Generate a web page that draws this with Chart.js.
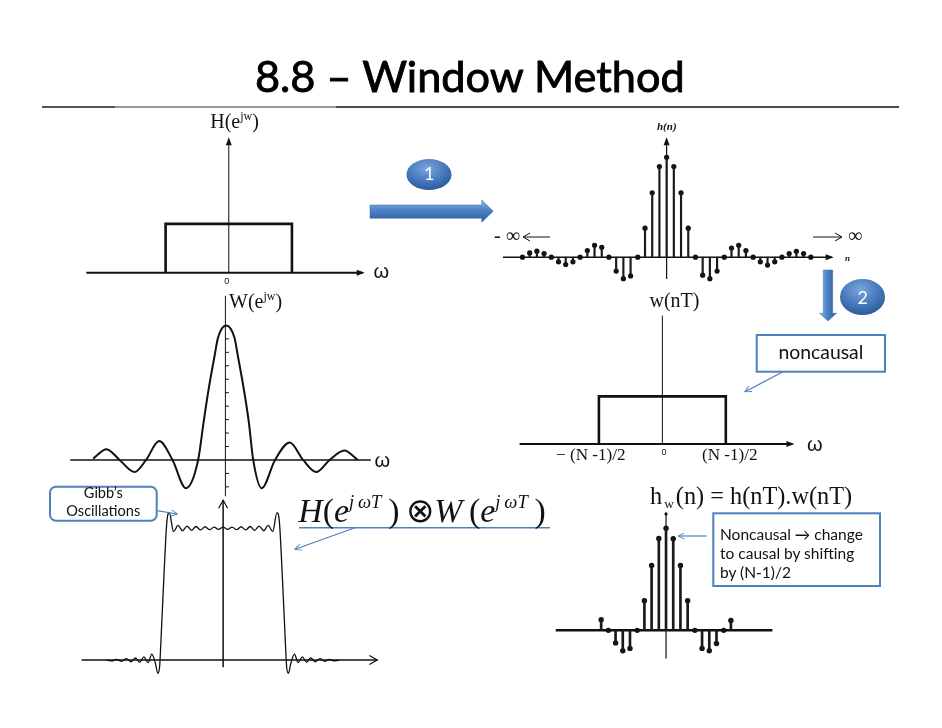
<!DOCTYPE html>
<html><head><meta charset="utf-8">
<script src="https://cdn.jsdelivr.net/npm/chart.js@4.4.1/dist/chart.umd.min.js"></script>
<style>
html,body{margin:0;padding:0;background:#fff;}
#wrap{position:relative;width:942px;height:728px;overflow:hidden;background:#fff;}
#c{position:absolute;left:0;top:0;}
#deco{position:absolute;left:0;top:0;}
.t{position:absolute;white-space:nowrap;line-height:1;color:#111;}
.sup{font-size:0.6em;vertical-align:0.65em;}
.sub{font-size:0.55em;vertical-align:-0.3em;}
</style></head><body>
<div id="wrap">
<canvas id="c" width="942" height="728"></canvas>
<svg id="deco" width="942" height="728" xmlns="http://www.w3.org/2000/svg">
<defs>
<linearGradient id="gh" x1="0" y1="0" x2="0" y2="1"><stop offset="0" stop-color="#8fb5e6"/><stop offset="0.45" stop-color="#4f83c6"/><stop offset="1" stop-color="#2b5c9c"/></linearGradient>
<linearGradient id="gv" x1="0" y1="0" x2="1" y2="0"><stop offset="0" stop-color="#8fb5e6"/><stop offset="0.45" stop-color="#4f83c6"/><stop offset="1" stop-color="#2b5c9c"/></linearGradient>
<radialGradient id="gc" cx="0.45" cy="0.3" r="0.8"><stop offset="0" stop-color="#7aa6dd"/><stop offset="0.6" stop-color="#3f72b5"/><stop offset="1" stop-color="#24518e"/></radialGradient>
<marker id="ah" viewBox="0 0 10 10" refX="9" refY="5" markerWidth="7" markerHeight="7" orient="auto" markerUnits="userSpaceOnUse"><path d="M0,0.5 L9.5,5 L0,9.5" fill="none" stroke="#4f81bd" stroke-width="1.3"/></marker>
</defs>
<!-- title rule -->
<line x1="42" y1="107" x2="115" y2="107" stroke="#555" stroke-width="2"/>
<line x1="115" y1="107" x2="336" y2="107" stroke="#9a9a9a" stroke-width="2"/>
<line x1="336" y1="107" x2="899" y2="107" stroke="#111" stroke-width="1.6"/>
<!-- step 1 -->
<ellipse cx="429" cy="174.5" rx="22.5" ry="15.5" fill="url(#gc)"/>
<path d="M370,205 H481.7 V200 L493.3,211.3 L481.7,222.3 V218.3 H370 Z" fill="url(#gh)" stroke="#3a6aa8" stroke-width="0.5"/>
<!-- step 2 -->
<ellipse cx="862.5" cy="297" rx="22.5" ry="18" fill="url(#gc)"/>
<path d="M823.3,270 H832.7 V313.3 H836.5 L828,321 L819.5,313.3 H823.3 Z" fill="url(#gv)" stroke="#3a6aa8" stroke-width="0.5"/>
<!-- infinity arrows -->
<line x1="523" y1="237" x2="550" y2="237" stroke="#111" stroke-width="1"/>
<path d="M530,233 L523,237 L530,241" fill="none" stroke="#111" stroke-width="1"/>
<line x1="813" y1="237" x2="842" y2="237" stroke="#111" stroke-width="1"/>
<path d="M835,233 L842,237 L835,241" fill="none" stroke="#111" stroke-width="1"/>
<!-- callouts -->
<rect x="756.7" y="335" width="128.3" height="36.7" fill="#fff" stroke="#4f81bd" stroke-width="2"/>
<line x1="783" y1="371.7" x2="745" y2="391.7" stroke="#4f81bd" stroke-width="1.2" marker-end="url(#ah)"/>
<rect x="713.3" y="513.3" width="166.7" height="72.7" fill="#fff" stroke="#4f81bd" stroke-width="2"/>
<line x1="706.7" y1="536" x2="678.3" y2="536" stroke="#4f81bd" stroke-width="1.2" marker-end="url(#ah)"/>
<rect x="50" y="486.7" width="106.7" height="34" rx="6" ry="6" fill="#fff" stroke="#4f81bd" stroke-width="2"/>
<line x1="156.7" y1="510.7" x2="177.3" y2="514" stroke="#4f81bd" stroke-width="1.2" marker-end="url(#ah)"/>
<line x1="299" y1="527.7" x2="550" y2="527.7" stroke="#4f81bd" stroke-width="1.5"/>
<line x1="355" y1="527.7" x2="295" y2="549.3" stroke="#4f81bd" stroke-width="1.2" marker-end="url(#ah)"/>
</svg>
</div>
<script>
// ---------------- data ----------------
// ideal low-pass H(e^jw): cutoff normalised to 1
const hOmega = [-1, -1, 1, 1];
const hMag = [0, 1, 1, 0];
// ideal impulse response h(n), n = -20..20 (peak normalised to 1)
const hnIndex = [-20,-19,-18,-17,-16,-15,-14,-13,-12,-11,-10,-9,-8,-7,-6,-5,-4,-3,-2,-1,0,1,2,3,4,5,6,7,8,9,10,11,12,13,14,15,16,17,18,19,20];
const hnValues = [0,0.043,0.06,0.036,0,-0.046,-0.073,-0.046,0,0.066,0.119,0.099,0,-0.139,-0.215,-0.188,0,0.29,0.644,0.908,1,0.908,0.644,0.29,0,-0.18,-0.215,-0.139,0,0.092,0.119,0.066,0,-0.046,-0.079,-0.046,0,0.036,0.059,0.036,0];
// window spectrum W(e^jw), omega in main-lobe half-width units
const wOmega = [-4.85,-4.36,-3.88,-3.33,-2.91,-2.43,-1.94,-1.45,-1.0,-0.80,-0.62,-0.40,-0.27,0.03,0.33,0.46,0.68,0.86,1.02,1.33,1.82,2.36,2.85,3.33,3.82,4.36,4.85];
const wMag = [0.01,0.08,0.0,-0.09,0.0,0.14,0.0,-0.21,0.0,0.28,0.52,0.77,0.91,1.0,0.91,0.77,0.52,0.28,0.0,-0.21,0.0,0.13,0.0,-0.09,0.0,0.07,0.0];
// rectangular window w(nT), n in (N-1)/2 units
const wnAxis = [-1, -1, 1, 1];
const wnMag = [0, 1, 1, 0];
// convolution H * W showing Gibbs oscillations
const convOmega = [-1.92,-1.84,-1.76,-1.68,-1.60,-1.52,-1.45,-1.38,-1.31,-1.24,-1.18,-1.12,-1.08,-1.05,-1.03,-0.98,-0.93,-0.89,-0.82,-0.745,-0.671,-0.596,-0.522,-0.447,-0.373,-0.298,-0.224,-0.149,-0.075,0,0.075,0.149,0.224,0.298,0.373,0.447,0.522,0.596,0.671,0.745,0.82,0.89,0.93,0.98,1.03,1.05,1.08,1.12,1.18,1.24,1.31,1.38,1.45,1.52,1.60,1.68,1.76,1.84,1.92];
const convMag = [0,-0.007,0.005,-0.01,0.01,-0.013,0.015,-0.017,0.024,-0.02,0.044,-0.024,-0.099,-0.05,0.124,0.617,1.037,1.104,0.962,1.008,0.968,1.003,0.971,1.0,0.974,0.998,0.976,0.996,0.978,0.995,0.978,0.996,0.976,0.998,0.974,1.0,0.971,1.003,0.968,1.008,0.962,1.104,1.037,0.617,0.124,-0.05,-0.099,-0.024,0.044,-0.02,0.024,-0.017,0.015,-0.013,0.01,-0.01,0.005,-0.007,0];
// windowed response h_w(n), n = -9..9
const hwIndex = [-9,-8,-7,-6,-5,-4,-3,-2,-1,0,1,2,3,4,5,6,7,8,9];
const hwValues = [0.103,0,-0.123,-0.2,-0.177,0,0.29,0.635,0.9,1,0.897,0.635,0.29,0,-0.177,-0.2,-0.129,0,0.097];
// tick marks on W(e^jw) axis
const wTicks = [-0.2,-0.1,0.1,0.2,0.3,0.4,0.5,0.6,0.7,0.8,0.9];

// ---------------- layout (pixel origin / scale of each panel) ----------------
const W = 942, H = 728;
const panels = {
  H:    {ox:226.7, oy:271.7, sx:63.7, sy:49.4},
  hn:   {ox:668.3, oy:256,   sx:7.27, sy:101},
  Wf:   {ox:223.3, oy:461,   sx:27.5, sy:136},
  wn:   {ox:664,   oy:445,   sx:64,   sy:48.3},
  conv: {ox:221,   oy:663.3, sx:61,   sy:135},
  hw:   {ox:667.7, oy:633.3, sx:7.27, sy:103.3}
};
const scales = {};
for (const k in panels) {
  const p = panels[k];
  scales['x'+k] = {type:'linear', display:false, bounds:'data', offset:false, min:-p.ox/p.sx, max:(W-p.ox)/p.sx};
  scales['y'+k] = {type:'linear', display:false, bounds:'data', min:-(H-p.oy)/p.sy, max:p.oy/p.sy};
}
const axesSpec = [
  {p:'H',   x:[-2.256,2.12], y:[0,2.733],     xw:2,   yw:1,   ax:'fill', ay:'fill'},
  {p:'hn',  x:[-22.7,22.9],  y:[-0.218,1.18], xw:1.5, yw:1.2, ax:'fill', ay:'fill'},
  {p:'Wf',  x:[-5.69,5.33],  y:[-0.27,1.22],  xw:1.5, yw:1,   ax:null,   ay:null, ticks:wTicks},
  {p:'wn',  x:[-2.25,2.05],  y:[0,2.69],      xw:2,   yw:1,   ax:'fill', ay:null},
  {p:'conv',x:[-2.34,2.55],  y:[-0.055,1.197],xw:1.5, yw:1.5, ax:'open', ay:'open'},
  {p:'hw',  x:[-15.3,14.76], y:[-0.276,1.139],xw:2.5, yw:1.2, ax:null,   ay:null, topDot:true}
];
const axisPlugin = {
  id:'panelAxes',
  beforeDatasetsDraw(chart){
    const ctx = chart.ctx;
    ctx.save();
    ctx.strokeStyle = '#111'; ctx.fillStyle = '#111';
    for (const a of axesSpec) {
      const xs = chart.scales['x'+a.p], ys = chart.scales['y'+a.p];
      const x0 = xs.getPixelForValue(a.x[0]), x1 = xs.getPixelForValue(a.x[1]);
      const yb = ys.getPixelForValue(0), xa = xs.getPixelForValue(0);
      const y0 = ys.getPixelForValue(a.y[0]), y1 = ys.getPixelForValue(a.y[1]);
      ctx.lineWidth = a.xw;
      ctx.beginPath(); ctx.moveTo(x0,yb); ctx.lineTo(x1,yb); ctx.stroke();
      ctx.lineWidth = a.yw;
      ctx.beginPath(); ctx.moveTo(xa,y0); ctx.lineTo(xa,y1); ctx.stroke();
      if (a.ax === 'fill') { ctx.beginPath(); ctx.moveTo(x1+2,yb); ctx.lineTo(x1-6,yb-3); ctx.lineTo(x1-6,yb+3); ctx.closePath(); ctx.fill(); }
      if (a.ay === 'fill') { ctx.beginPath(); ctx.moveTo(xa,y1-2); ctx.lineTo(xa-3,y1+6); ctx.lineTo(xa+3,y1+6); ctx.closePath(); ctx.fill(); }
      ctx.lineWidth = 1.2;
      if (a.ax === 'open') { ctx.beginPath(); ctx.moveTo(x1-8,yb-4.5); ctx.lineTo(x1,yb); ctx.lineTo(x1-8,yb+4.5); ctx.stroke(); }
      if (a.ay === 'open') { ctx.beginPath(); ctx.moveTo(xa-4.5,y1+8); ctx.lineTo(xa,y1); ctx.lineTo(xa+4.5,y1+8); ctx.stroke(); }
      if (a.ticks) { ctx.lineWidth = 1; for (const t of a.ticks) { const ty = ys.getPixelForValue(t); ctx.beginPath(); ctx.moveTo(xa,ty); ctx.lineTo(xa+3.5,ty); ctx.stroke(); } }
      if (a.topDot) { ctx.beginPath(); ctx.arc(xa,y1,1.6,0,Math.PI*2); ctx.fill(); }
    }
    ctx.restore();
  }
};
const pts = (xs, ys) => xs.map((x,i)=>({x, y:ys[i]}));
const lineDs = (k, xs, ys, w, smooth) => ({type:'line', xAxisID:'x'+k, yAxisID:'y'+k, data:pts(xs,ys), borderColor:'#111', borderWidth:w, pointRadius:0, fill:false, tension:0, cubicInterpolationMode: smooth?'monotone':'default'});
const stemDs = (k, xs, ys, w) => ({type:'bar', xAxisID:'x'+k, yAxisID:'y'+k, data:pts(xs,ys), backgroundColor:'#1a1a1a', barThickness:w, grouped:false, borderWidth:0});
const dotDs = (k, xs, ys, r) => ({type:'line', xAxisID:'x'+k, yAxisID:'y'+k, data:pts(xs,ys), showLine:false, pointRadius:r, pointBackgroundColor:'#111', pointBorderWidth:0, borderColor:'#111'});

new Chart(document.getElementById('c').getContext('2d'), {
  type:'line',
  data:{datasets:[
    lineDs('H', hOmega, hMag, 2.6, false),
    stemDs('hn', hnIndex, hnValues, 1.5),
    dotDs('hn', hnIndex, hnValues, 2.6),
    lineDs('Wf', wOmega, wMag, 2, true),
    lineDs('wn', wnAxis, wnMag, 2.6, false),
    lineDs('conv', convOmega, convMag, 1.3, true),
    stemDs('hw', hwIndex, hwValues, 2),
    dotDs('hw', hwIndex, hwValues, 2.7)
  ]},
  options:{responsive:false, animation:false, devicePixelRatio:1, events:[], layout:{padding:0},
    plugins:{legend:{display:false}, tooltip:{enabled:false}, title:{display:false}},
    scales: scales},
  plugins:[axisPlugin]
});

// ---------------- text labels ----------------
const wrap = document.getElementById('wrap');
function label(html, x, base, o) {
  const d = document.createElement('div');
  d.className = 't';
  d.style.fontFamily = o.family || '"Liberation Serif", serif';
  let size = o.size || 16;
  d.style.fontSize = size + 'px';
  if (o.weight) d.style.fontWeight = o.weight;
  if (o.style) d.style.fontStyle = o.style;
  if (o.color) d.style.color = o.color;
  if (o.stroke) d.style.webkitTextStroke = o.stroke;
  d.innerHTML = html + '<span class="bm" style="display:inline-block;width:0;height:0;vertical-align:baseline"></span>';
  d.style.left = '0px'; d.style.top = '0px';
  wrap.appendChild(d);
  if (o.fit) { size = size * o.fit / d.offsetWidth; d.style.fontSize = size + 'px'; }
  const w = d.offsetWidth;
  const b = d.querySelector('.bm').offsetTop;
  const al = o.align || 'l';
  d.style.left = (al === 'c' ? x - w/2 : al === 'r' ? x - w : x) + 'px';
  d.style.top = (base - b) + 'px';
  return size;
}
const SANS = 'Lato, "Open Sans", sans-serif';
label('8.8 – Window Method', 470, 91.7, {family:SANS, size:42, align:'c', fit:430, stroke:'0.9px #000', color:'#000'});
label('H(e<span class="sup">jw</span>)', 234.7, 128.3, {size:20, align:'c'});
label('0', 226.7, 283.5, {family:'"Liberation Sans", sans-serif', size:9, align:'c'});
label('ω', 381.5, 278, {family:'"Liberation Sans", sans-serif', size:20, align:'c'});
label('h(n)', 667, 130, {size:11, weight:'bold', style:'italic', align:'c'});
label('-&nbsp;∞', 494, 242, {size:20});
label('∞', 848, 242, {size:20});
label('n', 845, 261, {size:9, weight:'bold', style:'italic'});
label('W(e<span class="sup">jw</span>)', 229, 308.3, {size:20});
label('ω', 382.5, 467, {family:'"Liberation Sans", sans-serif', size:20, align:'c'});
label('w(nT)', 674.5, 306.7, {size:20, align:'c'});
label('ω', 815, 451, {family:'"Liberation Sans", sans-serif', size:20, align:'c'});
const nsz = label('(N -1)/2', 730, 459.5, {size:15, align:'c', fit:56});
label('− (N -1)/2', 556, 459.5, {size:nsz});
label('0', 664, 454.5, {family:'"Liberation Sans", sans-serif', size:9, align:'c'});
label('noncausal', 821, 359, {family:SANS, size:18, align:'c', fit:85});
const ns = label('Noncausal → change', 720, 540, {family:SANS, size:14, fit:143});
label('to causal by shifting', 720, 559, {family:SANS, size:ns});
label('by (N-1)/2', 720, 578, {family:SANS, size:ns});
const gs = label('Oscillations', 103.3, 516, {family:SANS, size:13, align:'c', fit:74});
label('Gibb’s', 103.3, 498, {family:SANS, size:gs, align:'c'});
label('<i>H</i>(<i>e</i><span class="sup" style="font-size:0.55em;vertical-align:0.75em"><i>j</i>&thinsp;<i>ωT</i></span>&thinsp;)&thinsp;⊗<i>W</i>&thinsp;(<i>e</i><span class="sup" style="font-size:0.55em;vertical-align:0.75em"><i>j</i>&thinsp;<i>ωT</i></span>&thinsp;)', 298.3, 521.7, {size:30, fit:248});
label('h<span class="sub" style="margin:0 2px">w</span>(n) = h(nT).w(nT)', 650, 504, {size:20, fit:203});
label('1', 429, 180, {family:SANS, size:18, align:'c', color:'#fff'});
label('2', 862.5, 303.5, {family:SANS, size:18, align:'c', color:'#fff'});
</script>
</body></html>
